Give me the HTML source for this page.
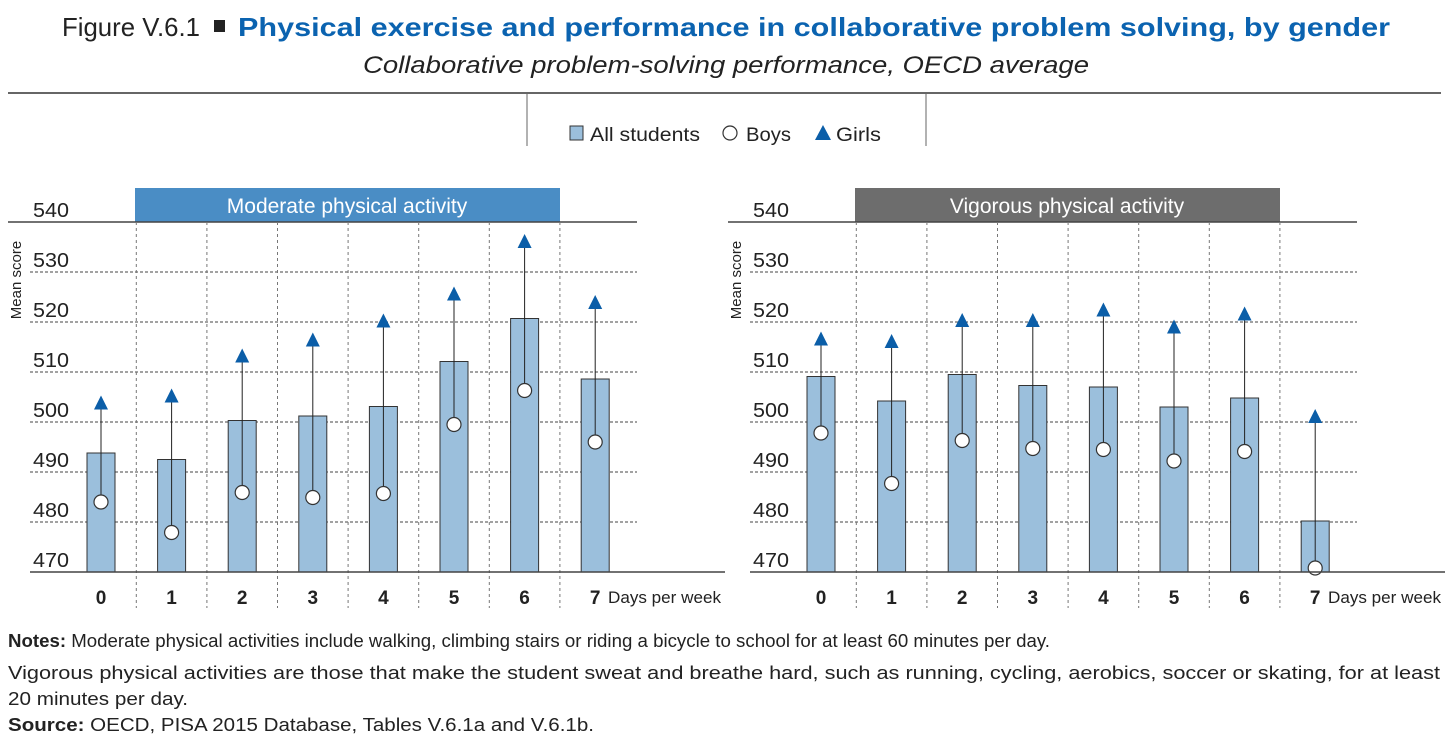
<!DOCTYPE html>
<html><head><meta charset="utf-8"><style>
body{margin:0;background:#fff;}
svg{display:block;font-family:"Liberation Sans",sans-serif;}
</style></head><body>
<svg id="root" width="1450" height="743" viewBox="0 0 1450 743">
<g>
<text x="62" y="36" font-size="26" fill="#222" textLength="138" lengthAdjust="spacingAndGlyphs">Figure V.6.1</text>
<rect x="214" y="20" width="11" height="12" fill="#222"/>
<text x="238" y="36" font-size="26" font-weight="bold" fill="#0b63b0" textLength="1152" lengthAdjust="spacingAndGlyphs">Physical exercise and performance in collaborative problem solving, by gender</text>
<text x="363" y="73" font-size="24" font-style="italic" fill="#222" textLength="726" lengthAdjust="spacingAndGlyphs">Collaborative problem-solving performance, OECD average</text>
<line x1="8" y1="93" x2="1441" y2="93" stroke="#333" stroke-width="1.5"/>
</g>
<g>
<line x1="527" y1="93" x2="527" y2="146" stroke="#666" stroke-width="1"/>
<line x1="926" y1="93" x2="926" y2="146" stroke="#666" stroke-width="1"/>
<rect x="570" y="126" width="13" height="14" fill="#9bbfdc" stroke="#333" stroke-width="1"/>
<text x="590" y="141" font-size="19" fill="#222" textLength="110" lengthAdjust="spacingAndGlyphs">All students</text>
<circle cx="730" cy="133" r="7" fill="#fff" stroke="#333" stroke-width="1.2"/>
<text x="746" y="141" font-size="19" fill="#222" textLength="45" lengthAdjust="spacingAndGlyphs">Boys</text>
<polygon points="823,125 831,140 815,140" fill="#0b5ea8"/>
<text x="836" y="141" font-size="19" fill="#222" textLength="45" lengthAdjust="spacingAndGlyphs">Girls</text>
</g>
<g id="charts"></g>
<g font-size="18" fill="#222">
<text x="8" y="647" textLength="1042" lengthAdjust="spacingAndGlyphs"><tspan font-weight="bold">Notes:</tspan> Moderate physical activities include walking, climbing stairs or riding a bicycle to school for at least 60 minutes per day.</text>
<text x="8" y="679" textLength="1432" lengthAdjust="spacingAndGlyphs">Vigorous physical activities are those that make the student sweat and breathe hard, such as running, cycling, aerobics, soccer or skating, for at least</text>
<text x="8" y="705" textLength="180" lengthAdjust="spacingAndGlyphs">20 minutes per day.</text>
<text x="8" y="731" textLength="586" lengthAdjust="spacingAndGlyphs"><tspan font-weight="bold">Source:</tspan> OECD, PISA 2015 Database, Tables V.6.1a and V.6.1b.</text>
</g>
</svg>
<script>
const categories = ["0","1","2","3","4","5","6","7"];
const yTicks = [470,480,490,500,510,520,530,540];
const moderateAll = [493.8,492.5,500.3,501.2,503.1,512.1,520.7,508.6];
const moderateBoys = [484,477.9,485.9,484.9,485.7,499.5,506.3,496];
const moderateGirls = [503.7,505.1,513.1,516.3,520.1,525.5,536,523.8];
const vigorousAll = [509.1,504.2,509.5,507.3,507,503,504.8,480.2];
const vigorousBoys = [497.8,487.7,496.3,494.7,494.5,492.2,494.1,470.8];
const vigorousGirls = [516.5,516,520.2,520.2,522.3,518.9,521.5,501];

const NS="http://www.w3.org/2000/svg";
const root=document.getElementById('charts');
function mk(tag,attrs,parent){const e=document.createElementNS(NS,tag);for(const k in attrs)e.setAttribute(k,attrs[k]);parent.appendChild(e);return e;}
const yMin=470,yMax=540,yTop=222,yBot=572;
function yScale(v){return yBot-(v-yMin)/(yMax-yMin)*(yBot-yTop);}

function drawPanel(ox,title,band,all,boys,girls,name){
  const g=mk('g',{},root);
  
  
  const step=70.6, x0=ox+101;
  function xScale(i){return x0+i*step;}
  // band
  const b=mk('rect',{x:ox+135,y:188,width:425,height:34,fill:band},g);
  
  
  const bt=mk('text',{x:ox+347,y:213,'text-anchor':'middle','font-size':21,fill:'#fff'},g);
  bt.textContent=title;
  
  
  // gridlines
  yTicks.forEach(t=>{
    const y=yScale(t);
    if(t===540){mk('line',{x1:ox+8,y1:y,x2:ox+637,y2:y,stroke:'#444','stroke-width':1.5},g);}
    else if(t!==470){mk('line',{x1:ox+30,y1:y,x2:ox+637,y2:y,stroke:'#444','stroke-width':1,'stroke-dasharray':'3,2'},g);}
    const tl=mk('text',{x:ox+33,y:y-5,'font-size':20,fill:'#222',textLength:36,lengthAdjust:'spacingAndGlyphs'},g);
    tl.textContent=t;
    
    
  });
  for(let i=0;i<7;i++){
    const x=xScale(i)+step/2;
    mk('line',{x1:x,y1:yTop,x2:x,y2:608,stroke:'#777','stroke-width':1,'stroke-dasharray':'3,3'},g);
  }
  const yl=mk('text',{transform:`translate(${ox+21},${280}) rotate(-90)`,'text-anchor':'middle','font-size':15,fill:'#222'},g);
  yl.textContent='Mean score';
  
  
  categories.forEach((c,i)=>{
    const x=xScale(i);
    const bar=mk('rect',{x:x-14,y:yScale(all[i]),width:28,height:yBot-yScale(all[i]),fill:'#9bbfdc',stroke:'#333','stroke-width':1},g);
    
    
    const yb=yScale(boys[i]),yg=yScale(girls[i]);
    mk('line',{x1:x,y1:yb,x2:x,y2:yg,stroke:'#222','stroke-width':1},g);
    const tri=mk('polygon',{points:`${x},${yg-8} ${x+7},${yg+6} ${x-7},${yg+6}`,fill:'#0b5ea8'},g);
    
    
    const cir=mk('circle',{cx:x,cy:yb,r:7,fill:'#fff',stroke:'#333','stroke-width':1.2},g);
    
    
    const xl=mk('text',{x:x,y:604,'text-anchor':'middle','font-size':19,'font-weight':'bold',fill:'#222'},g);
    xl.textContent=c;
    
    
  });
  mk('line',{x1:ox+30,y1:yBot,x2:ox+725,y2:yBot,stroke:'#444','stroke-width':1.5},g);
  const xt=mk('text',{x:ox+608,y:603,'font-size':17,fill:'#222',textLength:113,lengthAdjust:'spacingAndGlyphs'},g);
  xt.textContent='Days per week';
  
  
}
drawPanel(0,'Moderate physical activity','#4a8dc5',moderateAll,moderateBoys,moderateGirls,'moderate');
drawPanel(720,'Vigorous physical activity','#6d6d6d',vigorousAll,vigorousBoys,vigorousGirls,'vigorous');
</script>
</body></html>
